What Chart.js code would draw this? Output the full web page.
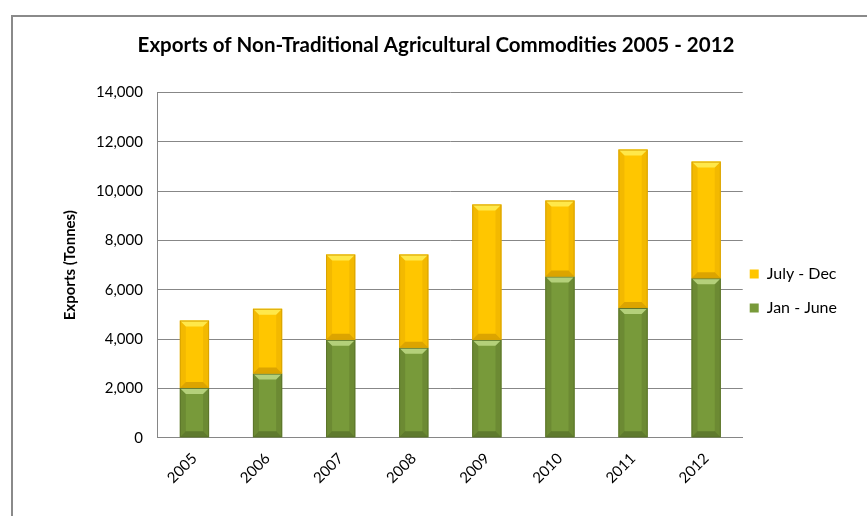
<!DOCTYPE html>
<html lang="en">
<head>
    <meta charset="UTF-8">
    <title>Exports of Non-Traditional Agricultural Commodities 2005 - 2012</title>
    <script src="https://cdn.jsdelivr.net/npm/chart.js"></script>
    <style>
        html, body { margin: 0; padding: 0; background: #fff; }
        #wrap {
            position: absolute; left: 0; top: 0;
            width: 867px; height: 516px;
        }
        #frame {
            position: absolute; left: 11px; top: 15px;
            width: 860px; height: 510px;
            border-left: 2px solid #8a8a8a;
            border-top: 2px solid #8a8a8a;
        }
    </style>
</head>
<body>
<div id="wrap">
    <div id="frame"></div>
    <canvas id="myChart" width="867" height="516"></canvas>
</div>

<script>
    const years = ['2005', '2006', '2007', '2008', '2009', '2010', '2011', '2012'];
    // tonnes exported in each half of the year
    const janJune = [2020, 2600, 3970, 3650, 3970, 6540, 5260, 6470];
    const julyDec = [2730, 2630, 3460, 3780, 5490, 3080, 6430, 4730];

    const font = 'Lato, "Liberation Sans", sans-serif';

    // bevel look on every bar: light band on top, darker band at the bottom and sides
    const bevelPlugin = {
        id: 'bevel',
        afterDatasetsDraw(chart) {
            const c = chart.ctx;
            chart.data.datasets.forEach((ds, i) => {
                const meta = chart.getDatasetMeta(i);
                meta.data.forEach(bar => {
                    const p = bar.getProps(['x', 'y', 'base', 'width'], true);
                    const l = p.x - p.width / 2, r = p.x + p.width / 2;
                    const t = Math.min(p.y, p.base), b = Math.max(p.y, p.base);
                    const e = 6;
                    c.save();
                    // top bevel
                    c.fillStyle = ds.bevelLight;
                    c.beginPath();
                    c.moveTo(l, t); c.lineTo(r, t); c.lineTo(r - e, t + e); c.lineTo(l + e, t + e);
                    c.closePath(); c.fill();
                    // bottom bevel
                    c.fillStyle = ds.bevelDark;
                    c.beginPath();
                    c.moveTo(l, b); c.lineTo(r, b); c.lineTo(r - e, b - e); c.lineTo(l + e, b - e);
                    c.closePath(); c.fill();
                    // side shading
                    c.fillStyle = ds.bevelSide;
                    c.beginPath();
                    c.moveTo(l, t); c.lineTo(l + e, t + e); c.lineTo(l + e, b - e); c.lineTo(l, b);
                    c.closePath(); c.fill();
                    c.beginPath();
                    c.moveTo(r, t); c.lineTo(r - e, t + e); c.lineTo(r - e, b - e); c.lineTo(r, b);
                    c.closePath(); c.fill();
                    c.strokeStyle = ds.borderColor;
                    c.lineWidth = 1;
                    c.strokeRect(l + 0.5, t + 0.5, p.width - 1, b - t - 1);
                    c.restore();
                });
            });
        }
    };

    // move the legend a little closer to the bars and lower down
    const legendNudge = {
        id: 'legendNudge',
        afterLayout(chart) {
            const lg = chart.legend;
            lg.left -= 11; lg.right -= 11;
            lg.top += 25; lg.bottom += 25;
        }
    };

    const ctx = document.getElementById('myChart').getContext('2d');
    new Chart(ctx, {
        type: 'bar',
        data: {
            labels: years,
            datasets: [
                {
                    label: 'Jan - June',
                    data: janJune,
                    backgroundColor: '#789a3a',
                    borderColor: '#5c752b',
                    bevelLight: '#b4d07a',
                    bevelDark: '#5f7a2e',
                    bevelSide: 'rgba(70,90,30,0.25)',
                    borderWidth: 0,
                    barPercentage: 0.4,
                    categoryPercentage: 1
                },
                {
                    label: 'July - Dec',
                    data: julyDec,
                    backgroundColor: '#ffc600',
                    borderColor: '#d9a300',
                    bevelLight: '#ffe84a',
                    bevelDark: '#dca400',
                    bevelSide: 'rgba(200,140,0,0.22)',
                    borderWidth: 0,
                    barPercentage: 0.4,
                    categoryPercentage: 1
                }
            ]
        },
        options: {
            responsive: false,
            animation: false,
            layout: { padding: { left: 14, right: 9, top: 33, bottom: 17 } },
            plugins: {
                title: {
                    display: true,
                    text: 'Exports of Non-Traditional Agricultural Commodities 2005 - 2012',
                    color: '#000',
                    font: { family: font, size: 20.5, weight: 'bold' },
                    padding: { top: 0, bottom: 35 }
                },
                legend: {
                    position: 'right',
                    reverse: true,
                    labels: {
                        boxWidth: 9,
                        boxHeight: 9,
                        padding: 18,
                        color: '#000',
                        font: { family: font, size: 16 }
                    }
                },
                tooltip: { enabled: false }
            },
            scales: {
                x: {
                    stacked: true,
                    grid: { display: false, drawTicks: false },
                    border: { color: '#868686' },
                    ticks: {
                        minRotation: 45,
                        maxRotation: 45,
                        padding: 12,
                        color: '#000',
                        font: { family: font, size: 15 }
                    }
                },
                y: {
                    stacked: true,
                    min: 0,
                    max: 14000,
                    grid: { color: '#878787', drawTicks: false },
                    border: { color: '#868686' },
                    ticks: {
                        stepSize: 2000,
                        padding: 15,
                        color: '#000',
                        font: { family: font, size: 15 },
                        callback: v => v.toLocaleString('en-US')
                    },
                    title: {
                        display: true,
                        text: 'Exports (Tonnes)',
                        color: '#000',
                        font: { family: font, size: 15, weight: 'bold' },
                        padding: { top: 47, bottom: 2 }
                    }
                }
            }
        },
        plugins: [bevelPlugin, legendNudge]
    });
</script>
</body>
</html>
